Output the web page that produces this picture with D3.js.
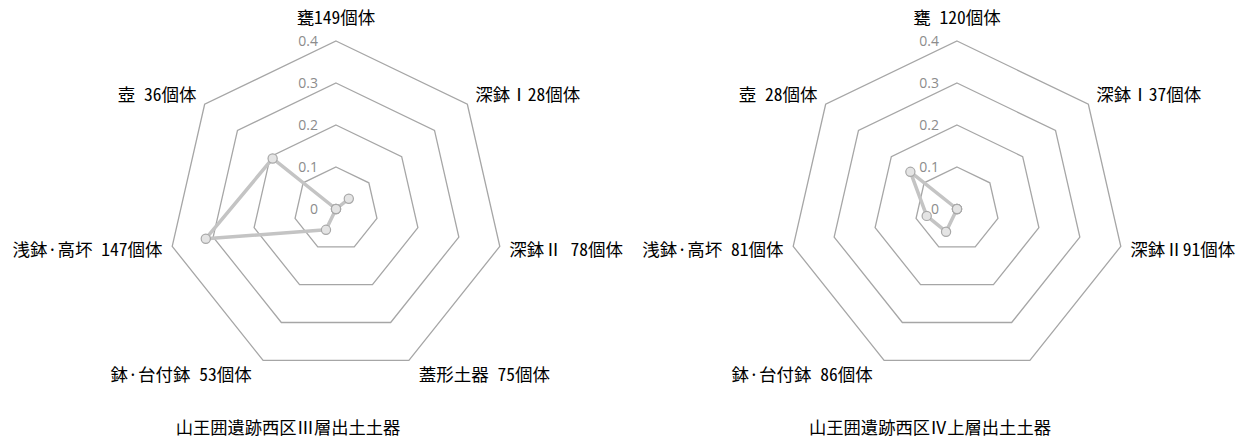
<!DOCTYPE html>
<html>
<head>
<meta charset="utf-8">
<script src="https://cdn.jsdelivr.net/npm/d3@7"></script>
<style>
  html, body { margin: 0; padding: 0; background: #fff; }
  svg { display: block; }
</style>
</head>
<body>
<div id="chart"></div>
<script>
// axes, clockwise from the top
const categories = ["甕", "深鉢Ⅰ", "深鉢Ⅱ", "蓋形土器", "鉢·台付鉢", "浅鉢·高坏", "壺"];

// axis labels as printed on each chart
const labelsIII = ["甕149個体", "深鉢Ⅰ28個体", "深鉢Ⅱ 78個体", "蓋形土器 75個体", "鉢·台付鉢 53個体", "浅鉢·高坏 147個体", "壺 36個体"];
const labelsIV  = ["甕 120個体", "深鉢Ⅰ37個体", "深鉢Ⅱ91個体", "", "鉢·台付鉢 86個体", "浅鉢·高坏 81個体", "壺 28個体"];

// values
const valuesIII = [0, 0.039, 0, 0, 0.055, 0.318, 0.193];
const valuesIV  = [0, 0, 0, 0, 0.06, 0.074, 0.142];

const ticks = [0, 0.1, 0.2, 0.3, 0.4];
const titles = ["山王囲遺跡西区Ⅲ層出土土器", "山王囲遺跡西区Ⅳ上層出土土器"];

const W = 1248, H = 443;
const R = 168;

const svg = d3.select("#chart").append("svg")
  .attr("width", W).attr("height", H);

const r = d3.scaleLinear().domain([0, 0.4]).range([0, R]);
const angle = d3.scalePoint().domain(categories).range([0, 2 * Math.PI * 6 / 7]);

const charts = [
  { cx: 336, cy: 209, titleX: 288, labels: labelsIII, values: valuesIII, title: titles[0] },
  { cx: 957, cy: 209, titleX: 930, labels: labelsIV, values: valuesIV, title: titles[1] }
];

const jpFont = "'Noto Sans CJK JP', 'Noto Sans', sans-serif";

charts.forEach(c => {
  const g = svg.append("g").attr("transform", `translate(${c.cx},${c.cy})`);
  const pt = (cat, v) => {
    const a = angle(cat);
    return [r(v) * Math.sin(a), -r(v) * Math.cos(a)];
  };

  // grid rings (0.1 .. 0.4)
  g.selectAll("path.ring").data(ticks.filter(t => t > 0)).join("path")
    .attr("class", "ring")
    .attr("d", t => d3.line()(categories.map(cat => pt(cat, t))) + "Z")
    .attr("fill", "none")
    .attr("stroke", "#a6a6a6")
    .attr("stroke-width", 1.3);

  // tick labels
  g.selectAll("text.tick").data(ticks).join("text")
    .attr("class", "tick")
    .attr("x", -18)
    .attr("y", t => -r(t))
    .attr("dy", "0.35em")
    .attr("text-anchor", "end")
    .attr("fill", "#8c8c8c")
    .style("font-family", "'Open Sans', 'Noto Sans', sans-serif")
    .style("font-size", "14px")
    .text(t => t === 0 ? "0" : d3.format(".1f")(t));

  // series line
  g.append("path")
    .attr("d", d3.line()(categories.map((cat, i) => pt(cat, c.values[i]))) + "Z")
    .attr("fill", "none")
    .attr("stroke", "#c4c4c4")
    .attr("stroke-width", 3.5)
    .attr("stroke-linejoin", "round");

  // markers
  g.selectAll("circle").data(categories).join("circle")
    .attr("cx", (cat, i) => pt(cat, c.values[i])[0])
    .attr("cy", (cat, i) => pt(cat, c.values[i])[1])
    .attr("r", 4.6)
    .attr("fill", "#e4e4e4")
    .attr("stroke", "#a8a8a8")
    .attr("stroke-width", 1.2);

  // axis labels
  g.selectAll("text.cat").data(categories).join("text")
    .attr("class", "cat")
    .each(function (cat, i) {
      const a = angle(cat);
      const dx = Math.sin(a), dy = -Math.cos(a);
      const t = d3.select(this);
      if (Math.abs(dx) < 0.1) {
        t.attr("x", 0).attr("y", -R - 17).attr("text-anchor", "middle");
      } else {
        t.attr("x", (R + 8) * dx + (dx > 0 ? 4 : -5) * (Math.abs(dy) > 0.8 ? 1.6 : 0.4))
          .attr("y", (R + 16) * dy)
          .attr("dy", "0.36em")
          .attr("text-anchor", dx > 0 ? "start" : "end");
      }
    })
    .attr("fill", "#000")
    .style("font-family", jpFont)
    .style("font-size", "17.5px")
    .style("font-feature-settings", "'hwid'")
    .text((cat, i) => c.labels[i]);

  // title
  svg.append("text")
    .attr("x", c.titleX)
    .attr("y", 434)
    .attr("text-anchor", "middle")
    .attr("fill", "#000")
    .style("font-family", jpFont)
    .style("font-size", "17.3px")
    .text(c.title);
});
</script>
</body>
</html>
